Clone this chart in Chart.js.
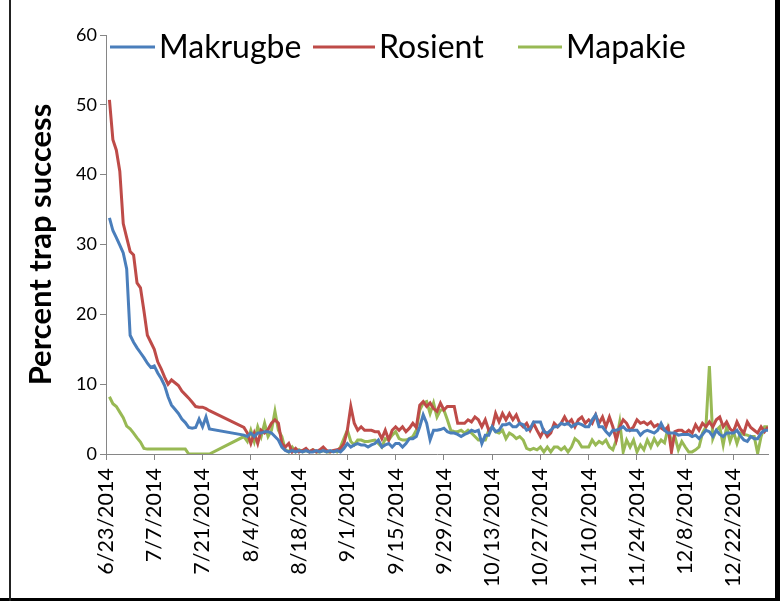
<!DOCTYPE html>
<html>
<head>
<meta charset="utf-8">
<title>Percent trap success</title>
<script src="https://cdn.jsdelivr.net/npm/chart.js@4.4.1/dist/chart.umd.min.js"></script>
<style>
  body { margin: 0; background: #fff; }
  #trapChart { display: block; }
</style>
</head>
<body>
<canvas id="trapChart" width="780" height="601"></canvas>
<script>
// days since 6/23/2014
const days = [
  1, 2, 3, 4, 5, 6, 7, 8, 9, 10, 11, 12, 13, 14, 15, 16, 17, 18, 19, 20, 21, 22, 23, 24, 25, 26, 27, 28, 29, 30,
  40, 41, 42, 43, 44, 45, 46, 47, 48, 49, 50, 51, 52, 53, 54, 55, 56, 57, 58, 59,
  60, 61, 62, 63, 64, 65, 66, 67, 68, 69, 70, 71, 72, 73, 74, 75, 76, 77, 78, 79,
  80, 81, 82, 83, 84, 85, 86, 87, 88, 89, 90, 91, 92, 93, 94, 95, 96, 97, 98, 99,
  100, 101, 102, 103, 104, 105, 106, 107, 108, 109, 110, 111, 112, 113, 114, 115, 116, 117, 118, 119,
  120, 121, 122, 123, 124, 125, 126, 127, 128, 129, 130, 131, 132, 133, 134, 135, 136, 137, 138, 139,
  140, 141, 142, 143, 144, 145, 146, 147, 148, 149, 150, 151, 152, 153, 154, 155, 156, 157, 158, 159,
  160, 161, 162, 163, 164, 165, 166, 167, 168, 169, 170, 171, 172, 173, 174, 175, 176, 177, 178, 179,
  180, 181, 182, 183, 184, 185, 186, 187, 188, 189, 190, 191, 192
];

const makrugbe = [
  33.8, 32.0, 31.0, 29.9, 28.8, 26.5, 17.0, 16.0, 15.2, 14.5, 13.8, 13.0, 12.4, 12.6, 11.6, 10.8, 9.8, 8.2, 7.0, 6.4,
  5.8, 5.0, 4.5, 3.8, 3.7, 3.8, 5.0, 3.9, 5.3, 3.6,
  2.7, 2.5, 3.0, 2.5, 3.0, 3.0, 3.2, 3.2, 3.0, 2.5,
  2.0, 1.0, 0.5, 0.3, 0.5, 0.3, 0.5, 0.3, 0.5, 0.3,
  0.3, 0.5, 0.3, 0.5, 0.3, 0.5, 0.3, 0.5, 0.3, 0.8,
  1.5, 1.0, 1.3, 1.5, 1.3, 1.3, 1.0, 1.3, 1.5, 2.0,
  1.0, 1.3, 1.5, 1.0, 1.5, 1.5, 1.0, 1.5, 2.2, 2.2,
  2.5, 3.9, 5.6, 4.4, 2.0, 3.4, 3.4, 3.5, 3.7, 3.2,
  3.0, 3.0, 2.8, 2.5, 2.8, 3.0, 3.4, 3.2, 3.4, 1.5,
  2.7, 2.7, 3.9, 3.2, 3.4, 4.2, 4.2, 4.4, 3.9, 3.9,
  4.4, 4.2, 3.4, 3.6, 4.6, 4.6, 4.6, 3.2, 3.0, 3.4,
  3.9, 3.9, 4.4, 4.2, 4.4, 3.9, 4.2, 4.4, 4.2, 3.9,
  3.9, 4.9, 5.6, 3.9, 3.9, 3.2, 2.7, 3.4, 3.4, 3.6,
  3.9, 3.4, 3.4, 3.4, 3.4, 2.7, 3.2, 3.4, 3.2, 3.0,
  3.4, 4.4, 3.4, 3.0, 3.0, 3.0, 2.7, 2.8, 2.8, 2.8,
  2.5, 2.7, 2.2, 2.8, 3.4, 3.2, 2.5, 3.4, 2.8, 2.5,
  3.0, 3.0, 3.0, 3.4, 2.6, 2.0, 1.8, 2.5, 2.2, 2.2,
  3.0, 3.4, 3.4
];

const rosient = [
  50.7, 45.0, 43.5, 40.5, 33.0, 31.0, 29.0, 28.5, 24.5, 23.8, 20.5, 17.0, 16.0, 15.0, 13.2, 12.2, 11.0, 10.0, 10.6, 10.2,
  9.8, 9.0, 8.5, 8.0, 7.4, 6.8, 6.7, 6.7, 6.5, 6.2,
  3.8, 3.0, 1.5, 3.0, 1.5, 3.4, 3.0, 3.5, 4.4, 4.9,
  4.4, 1.5, 1.0, 1.5, 0.3, 0.8, 0.3, 0.5, 0.8, 0.3,
  0.6, 0.3, 0.6, 1.0, 0.5, 0.3, 0.5, 0.6, 0.8, 1.5,
  3.4, 6.8, 4.4, 3.4, 3.9, 3.4, 3.4, 3.4, 3.2, 3.2,
  2.2, 3.4, 2.0, 3.4, 3.9, 3.4, 3.9, 3.2, 3.7, 4.4,
  3.8, 7.0, 7.5, 6.8, 7.3, 6.5, 6.1, 7.3, 6.3, 6.8,
  6.8, 6.8, 4.4, 4.4, 4.4, 4.9, 4.6, 5.3, 4.9, 3.9,
  4.9, 3.4, 3.7, 5.8, 4.6, 5.8, 4.9, 5.8, 4.9, 5.6,
  4.4, 3.9, 4.4, 3.4, 4.4, 3.4, 2.5, 3.4, 2.5, 3.0,
  4.4, 3.9, 4.4, 5.3, 4.4, 4.9, 3.9, 4.9, 5.3, 4.4,
  4.9, 4.4, 5.6, 4.4, 5.3, 3.9, 5.3, 3.9, 2.0, 3.9,
  4.9, 4.4, 3.4, 3.9, 4.9, 4.4, 4.6, 4.2, 4.6, 3.9,
  4.2, 3.7, 3.4, 3.9, 0.3, 3.2, 3.4, 3.4, 3.0, 3.4,
  3.0, 4.2, 3.4, 4.4, 3.9, 4.6, 3.9, 4.9, 5.3, 3.9,
  4.6, 3.6, 3.2, 4.6, 3.6, 3.0, 4.6, 3.8, 3.4, 3.0,
  3.9, 3.2, 3.9
];

const mapakie = [
  8.2, 7.2, 6.8, 6.0, 5.2, 4.0, 3.6, 3.0, 2.3, 1.7, 0.8, 0.7, 0.7, 0.7, 0.7, 0.7, 0.7, 0.7, 0.7, 0.7,
  0.7, 0.7, 0.7, 0, 0, 0, 0, 0, 0, 0,
  2.5, 1.8, 3.4, 1.8, 3.9, 2.5, 4.4, 2.5, 3.4, 6.1,
  3.4, 2.5, 0.6, 0.3, 1.0, 0.3, 0.6, 0.3, 0.5, 0.3,
  0.6, 0.3, 0.3, 0.5, 0.3, 0.3, 0.5, 0.3, 1.0, 2.2,
  3.4, 1.8, 1.3, 2.0, 2.0, 1.8, 1.8, 1.9, 2.0, 1.5,
  1.0, 2.2, 2.0, 2.7, 3.2, 2.2, 2.0, 2.0, 2.2, 2.5,
  3.4, 6.3, 7.3, 7.5, 5.8, 7.3, 5.3, 6.3, 6.3, 4.9,
  3.4, 3.2, 3.2, 3.4, 3.0, 3.4, 3.0, 2.5, 2.0, 2.0,
  2.0, 3.4, 3.9, 3.2, 3.0, 3.4, 2.2, 3.0, 2.7, 2.2,
  2.5, 2.0, 0.8, 0.6, 0.8, 0.6, 1.0, 0.3, 1.0, 0.3,
  1.0, 1.0, 0.6, 1.0, 0.3, 1.0, 2.2, 1.8, 1.0, 1.0,
  1.0, 2.0, 1.3, 1.8, 1.5, 2.0, 1.0, 0.6, 2.0, 4.6,
  0.3, 2.0, 1.0, 2.0, 0.3, 1.3, 0.6, 2.0, 1.0, 2.2,
  1.3, 2.0, 1.6, 3.7, 1.8, 2.5, 0.6, 1.8, 1.0, 0.3,
  0.3, 0.6, 1.0, 3.0, 3.9, 12.6, 2.2, 3.4, 3.9, 1.3,
  3.9, 1.8, 3.2, 1.5, 3.0, 2.8, 2.7, 2.5, 2.5, 0.1,
  2.5, 3.9, 3.9
];

const xTickLabels = ['6/23/2014', '7/7/2014', '7/21/2014', '8/4/2014', '8/18/2014', '9/1/2014', '9/15/2014',
  '9/29/2014', '10/13/2014', '10/27/2014', '11/10/2014', '11/24/2014', '12/8/2014', '12/22/2014'];
const yTickValues = [0, 10, 20, 30, 40, 50, 60];

const toPoints = (vals) => days.map((d, i) => ({ x: d, y: vals[i] }));

const series = [
  { label: 'Makrugbe', values: makrugbe, color: '#4a7ebb' },
  { label: 'Rosient', values: rosient, color: '#be4b48' },
  { label: 'Mapakie', values: mapakie, color: '#98b954' },
];

// legend sits inside the plot area, one row (line sample + name)
const legendSlots = [[110, 155], [313, 375], [518, 562]];
const legendPlugin = {
  id: 'rowLegend',
  afterDraw(chart) {
    const c = chart.ctx;
    const y = 47;
    c.save();
    c.font = '32px Lato';
    c.textBaseline = 'middle';
    c.textAlign = 'left';
    chart.data.datasets.forEach((ds, i) => {
      const [x0, x1] = legendSlots[i];
      c.strokeStyle = ds.borderColor;
      c.lineWidth = 3;
      c.beginPath();
      c.moveTo(x0, y);
      c.lineTo(x1, y);
      c.stroke();
      c.fillStyle = '#000';
      c.fillText(ds.label, x1 + 4, y + 1);
    });
    c.restore();
  }
};

// frame round the picture, like the Excel chart border
const framePlugin = {
  id: 'frame',
  beforeDraw(chart) {
    const c = chart.ctx;
    c.save();
    c.fillStyle = '#fff';
    c.fillRect(0, 0, chart.width, chart.height);
    c.restore();
  },
  afterDraw(chart) {
    const c = chart.ctx;
    c.save();
    c.fillStyle = '#000';
    c.fillRect(775, 0, 5, chart.height);
    c.fillRect(0, 598, chart.width, 3);
    c.fillStyle = '#222';
    c.fillRect(9, 0, 2, chart.height);
    c.restore();
  }
};

const axisGrey = '#868686';

new Chart(document.getElementById('trapChart').getContext('2d'), {
  type: 'line',
  data: {
    datasets: series.map(s => ({
      label: s.label,
      data: toPoints(s.values),
      borderColor: s.color,
      backgroundColor: s.color,
      borderWidth: 3,
      pointRadius: 0,
      tension: 0,
      spanGaps: true,
    })),
  },
  options: {
    responsive: false,
    animation: false,
    layout: { padding: { top: 35, right: 12, left: 0, bottom: 0 } },
    scales: {
      x: {
        type: 'linear',
        min: 0,
        max: 192,
        afterBuildTicks: (scale) => {
          scale.ticks = xTickLabels.map((_, i) => ({ value: i * 14 }));
        },
        afterFit: (scale) => { scale.height = 147; },
        border: { display: true, color: axisGrey, width: 1 },
        grid: { display: true, drawOnChartArea: false, drawTicks: true, tickLength: 6, color: axisGrey },
        ticks: {
          autoSkip: false,
          maxRotation: 90,
          minRotation: 90,
          padding: 8,
          color: '#000',
          font: { family: 'Lato', size: 21.5 },
          callback: (value) => xTickLabels[Math.round(value / 14)] ?? '',
        },
      },
      y: {
        min: 0,
        max: 60,
        afterBuildTicks: (scale) => {
          scale.ticks = yTickValues.map(v => ({ value: v }));
        },
        afterFit: (scale) => { scale.width = 106; },
        border: { display: true, color: axisGrey, width: 1 },
        grid: { display: true, drawOnChartArea: false, drawTicks: true, tickLength: 6, color: axisGrey },
        ticks: {
          padding: 3,
          color: '#000',
          font: { family: 'Lato', size: 18 },
        },
        title: {
          display: true,
          text: 'Percent trap success',
          color: '#000',
          padding: { top: 22, bottom: 0 },
          font: { family: 'Lato', size: 31, weight: 'bold' },
        },
      },
    },
    plugins: {
      legend: { display: false },
      tooltip: { enabled: false },
    },
  },
  plugins: [framePlugin, legendPlugin],
});
</script>
</body>
</html>
